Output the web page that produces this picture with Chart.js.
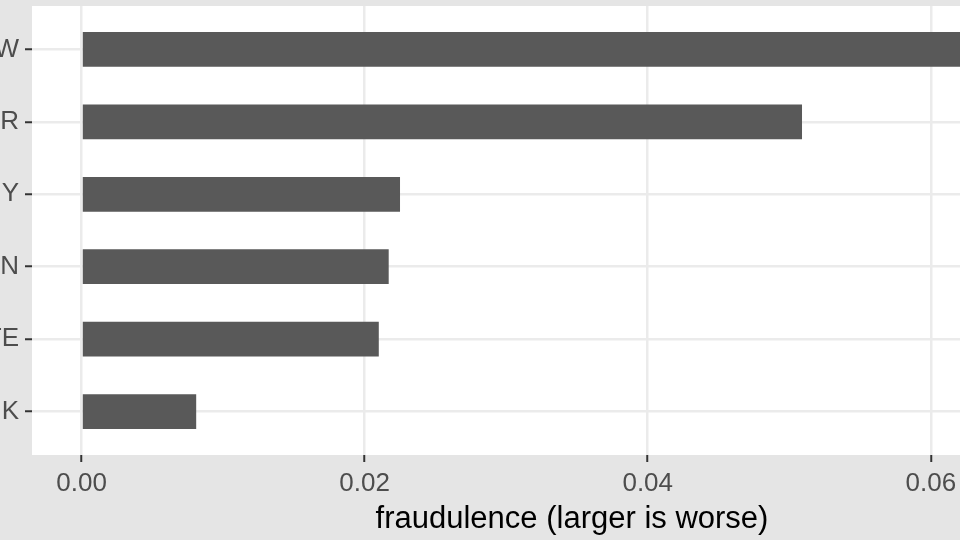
<!DOCTYPE html>
<html>
<head>
<meta charset="utf-8">
<script src="https://cdn.jsdelivr.net/npm/chart.js@4/dist/chart.umd.min.js"></script>
<style>
  html, body { margin: 0; padding: 0; background: #e5e5e5; overflow: hidden; }
  #wrap { width: 960px; height: 540px; position: relative; overflow: hidden; }
</style>
</head>
<body>
<div id="wrap"><canvas id="bar-chart" width="1120" height="540"></canvas></div>
<script>
// categories top to bottom (left labels are cut off in the original)
const categories = ["W", "R", "Y", "N", "TE", "K"];
const fraudulence = [0.0640, 0.0509, 0.0225, 0.0217, 0.0210, 0.0081];
const xTicks = [0.00, 0.02, 0.04, 0.06];
const xTickLabels = ["0.00", "0.02", "0.04", "0.06"];

// gray plot background, white panel
const panelBg = {
  id: "panelBg",
  beforeDraw(chart) {
    const { ctx, chartArea } = chart;
    ctx.save();
    ctx.fillStyle = "#e5e5e5";
    ctx.fillRect(0, 0, chart.width, chart.height);
    ctx.fillStyle = "#ffffff";
    ctx.fillRect(chartArea.left, chartArea.top, chartArea.right - chartArea.left, chartArea.bottom - chartArea.top);
    ctx.restore();
  },
};

const ctx = document.querySelector("#bar-chart").getContext("2d");

const barChart = new Chart(ctx, {
  type: "bar",
  data: {
    datasets: [
      {
        label: "fraudulence",
        data: fraudulence.map((v, i) => ({ x: v, y: i })),
        backgroundColor: "#595959",
        borderWidth: 0,
        barPercentage: 0.48,
        categoryPercentage: 1,
      },
    ],
  },
  options: {
    indexAxis: "y",
    responsive: false,
    animation: false,
    layout: { padding: { top: 6, right: 8, left: 0, bottom: 0 } },
    plugins: {
      legend: { display: false },
      tooltip: { enabled: false },
    },
    scales: {
      x: {
        type: "linear",
        min: -0.0035,
        max: 0.0728,
        afterBuildTicks(scale) {
          scale.ticks = xTicks.map((v) => ({ value: v }));
        },
        afterFit(scale) {
          scale.height = 85;
          scale.paddingLeft = 0;
          scale.paddingRight = 0;
        },
        ticks: {
          callback: (v) => xTickLabels[xTicks.indexOf(v)],
          color: "#4d4d4d",
          font: { family: "Liberation Sans, Arial, sans-serif", size: 26 },
          padding: 6,
          maxRotation: 0,
        },
        grid: {
          color: "#ebebeb",
          lineWidth: 2.5,
          tickColor: "#333333",
          tickLength: 7,
          tickWidth: 2,
        },
        border: { display: false },
        title: {
          display: true,
          text: "fraudulence (larger is worse)",
          color: "#000000",
          font: { family: "Liberation Sans, Arial, sans-serif", size: 31 },
          padding: { top: 0, bottom: 2 },
        },
      },
      y: {
        type: "linear",
        min: -0.6,
        max: 5.6,
        reverse: true,
        offset: false,
        afterBuildTicks(scale) {
          scale.ticks = categories.map((c, i) => ({ value: i }));
        },
        afterFit(scale) {
          scale.width = 32;
          scale.paddingTop = 0;
          scale.paddingBottom = 0;
        },
        ticks: {
          callback: (v) => categories[v],
          color: "#4d4d4d",
          font: { family: "Liberation Sans, Arial, sans-serif", size: 26 },
          padding: 6,
        },
        grid: {
          offset: false,
          color: "#ebebeb",
          lineWidth: 2.5,
          tickColor: "#333333",
          tickLength: 7,
          tickWidth: 2,
        },
        border: { display: false },
      },
    },
  },
  plugins: [panelBg],
});
</script>
</body>
</html>
